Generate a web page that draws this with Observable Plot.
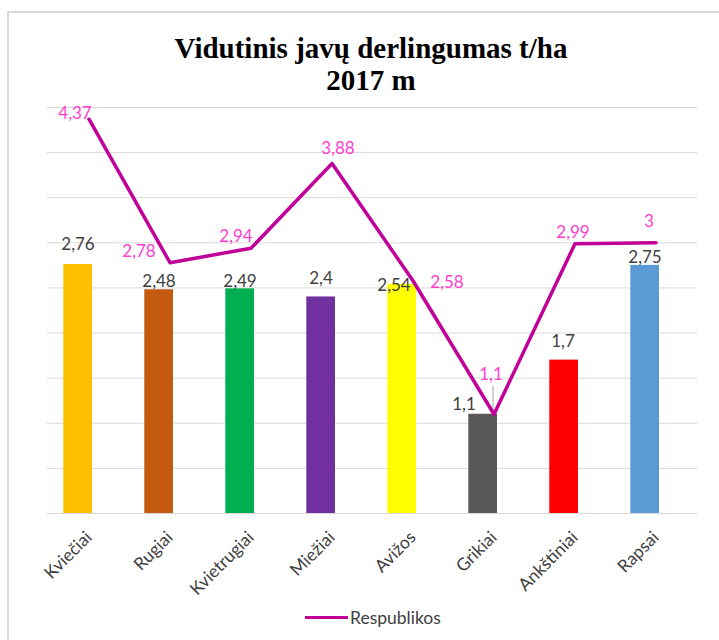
<!DOCTYPE html>
<html><head><meta charset="utf-8">
<script src="https://cdn.jsdelivr.net/npm/d3@7"></script>
<script src="https://cdn.jsdelivr.net/npm/@observablehq/plot@0.6"></script>
<style>
body{margin:0;background:#fff;}
#wrap{position:relative;width:719px;height:640px;overflow:hidden;background:#fff;}
#frame{position:absolute;left:7px;top:11px;width:800px;height:800px;border:2px solid #D9D9D9;box-sizing:border-box;}
.title{position:absolute;left:371px;transform:translateX(-50%);font-family:"Liberation Serif",serif;font-weight:bold;font-size:29px;line-height:32px;text-align:center;white-space:nowrap;color:#000;}
#t1{top:32px;}
#t2{top:64px;}
#chart{position:absolute;left:0;top:95px;}
#legend{position:absolute;left:305px;top:606px;height:22px;display:flex;align-items:center;font-family:Lato,sans-serif;font-size:17.5px;color:#404040;}
#legend .sw{display:inline-block;width:43px;height:0;border-top:3.5px solid #C00099;margin-right:2px;}
</style>
</head><body>
<div id="wrap">
  <div id="frame"></div>
  <div class="title" id="t1">Vidutinis javų derlingumas t/ha</div>
  <div class="title" id="t2">2017 m</div>
  <div id="chart"></div>
  <div id="legend"><span class="sw"></span><span id="legtext"></span></div>
</div>
<script>
const categories = ["Kviečiai","Rugiai","Kvietrugiai","Miežiai","Avižos","Grikiai","Ankštiniai","Rapsai"];
const barValues = [2.76, 2.48, 2.49, 2.4, 2.54, 1.1, 1.7, 2.75];
const lineValues = [4.37, 2.78, 2.94, 3.88, 2.58, 1.1, 2.99, 3];
const barColors = ["#FFC000","#C55A11","#00B050","#7030A0","#FFFF00","#595959","#FF0000","#5B9BD5"];
const seriesName = "Respublikos";
const yGrid = [0.5, 1, 1.5, 2, 2.5, 3, 3.5, 4, 4.5];
const leaderCategories = ["Grikiai"];

// label nudges (pixels), as placed in the original chart
const barLabelDx = [0, 0, 0, 0, -8, -19, -1, 0];
const barLabelDy = [-14, -3, -2, -13, 7, -4, -13, -2];
const lineLabelDx = [-14, -31, -15, 6, 34, -3, -2, -7];
const lineLabelDy = [0, -6, -6, -9, 7, -34, -6, -16];

const fmt = v => String(v).replace(".", ",");
const rows = categories.map((c, i) => ({cat: c, bar: barValues[i], line: lineValues[i], color: barColors[i], i}));

const barShift = -11;
const marks = [
  Plot.ruleY(yGrid, {stroke: "#D9D9D9", strokeWidth: 1}),
  Plot.barY(rows, {x: "cat", y: "bar", fill: "color", insetLeft: 15.3, insetRight: 37}),
  Plot.ruleY([0], {stroke: "#D9D9D9", strokeWidth: 1.2}),
  Plot.ruleX(rows.filter(d => leaderCategories.includes(d.cat)), {x: "cat", y1: d => d.line, y2: d => d.line + 0.31, stroke: "#A6A6A6", strokeWidth: 1, dx: -1}),
  Plot.lineY(rows, {x: "cat", y: "line", stroke: "#C00099", strokeWidth: 3.5, strokeLinejoin: "round"}),
  ...rows.map((r, i) => Plot.text([r], {x: "cat", y: "bar", text: d => fmt(d.bar), lineAnchor: "bottom", dx: barShift + barLabelDx[i], dy: barLabelDy[i], fill: "#404040", fontSize: 17})),
  ...rows.map((r, i) => Plot.text([r], {x: "cat", y: "line", text: d => fmt(d.line), lineAnchor: "bottom", dx: lineLabelDx[i], dy: lineLabelDy[i], fill: "#FF40CC", fontSize: 17}))
];

const plot = Plot.plot({
  width: 719,
  height: 505,
  marginTop: 12,
  marginBottom: 87,
  marginLeft: 47,
  marginRight: 22,
  style: {fontFamily: "Lato, sans-serif", fontSize: "17.5px", background: "transparent", overflow: "visible"},
  x: {type: "band", domain: categories, padding: 0, label: null, tickRotate: -45, tickSize: 0, tickPadding: 21},
  y: {domain: [0, 4.5], axis: null},
  color: {type: "identity"},
  marks
});
plot.querySelectorAll('[aria-label="x-axis tick label"], [aria-label="x-axis"] text').forEach(t => t.setAttribute("fill", "#404040"));
document.getElementById("chart").append(plot);
document.getElementById("legtext").textContent = seriesName;
</script>
</body></html>
